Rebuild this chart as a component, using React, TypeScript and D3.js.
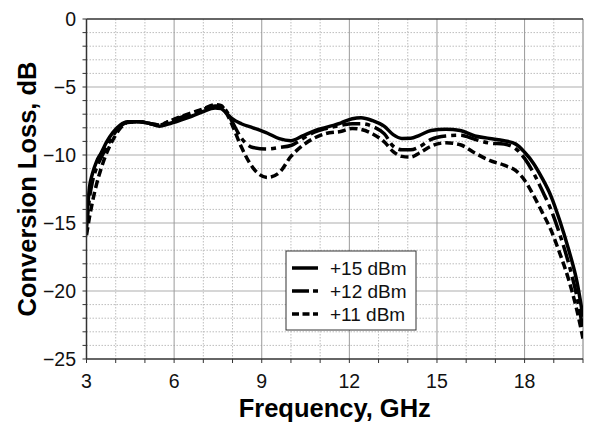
import React from "react";
import * as d3 from "d3";

const freq = [3.0, 3.1, 3.2, 3.35, 3.5, 3.7, 3.9, 4.15, 4.4, 4.8, 5.2, 5.5, 5.8, 6.2, 6.6, 7.0, 7.4, 7.6, 7.8, 8.0, 8.3, 8.7, 9.2, 9.6, 10.0, 10.4, 10.8, 11.2, 11.7, 12.1, 12.4, 12.8, 13.2, 13.5, 13.8, 14.1, 14.4, 14.8, 15.3, 15.8, 16.3, 16.8, 17.3, 17.7, 18.0, 18.3, 18.6, 18.9, 19.2, 19.5, 19.8, 20.0];

const loss15 = [-15.0, -12.4, -11.4, -10.45, -9.85, -9.0, -8.35, -7.8, -7.55, -7.55, -7.7, -7.88, -7.72, -7.45, -7.15, -6.8, -6.55, -6.58, -6.95, -7.35, -7.7, -8.0, -8.4, -8.8, -8.95, -8.6, -8.22, -7.97, -7.65, -7.33, -7.26, -7.48, -7.9, -8.5, -8.78, -8.77, -8.55, -8.2, -8.1, -8.2, -8.6, -8.78, -8.95, -9.2, -9.8, -10.6, -11.7, -13.0, -14.8, -16.9, -19.4, -21.9];

const loss12 = [-15.4, -13.2, -12.0, -10.9, -10.2, -9.35, -8.6, -7.9, -7.6, -7.55, -7.7, -7.8, -7.55, -7.25, -6.95, -6.65, -6.4, -6.4, -6.8, -7.6, -8.75, -9.45, -9.56, -9.45, -9.3, -8.8, -8.32, -8.05, -7.83, -7.7, -7.7, -7.9, -8.45, -9.35, -9.62, -9.62, -9.4, -8.85, -8.6, -8.55, -8.85, -9.12, -9.2, -9.55, -10.25, -11.3, -12.6, -14.0, -15.8, -17.9, -20.5, -22.8];

const loss11 = [-15.9, -14.6, -13.5, -12.1, -11.0, -9.8, -8.9, -8.05, -7.62, -7.55, -7.7, -7.8, -7.55, -7.2, -6.9, -6.6, -6.3, -6.35, -6.95, -7.85, -9.4, -10.95, -11.65, -11.3, -10.1, -9.3, -8.75, -8.42, -8.27, -8.05, -8.12, -8.45, -9.05, -9.75, -10.1, -10.15, -9.85, -9.35, -9.1, -9.25, -9.85, -10.4, -10.75, -11.15, -11.85, -12.95, -14.2, -15.5, -17.2, -19.1, -21.5, -23.5];

const seriesNames = ["+15 dBm", "+12 dBm", "+11 dBm"];
const seriesDash = ["none", "18 5 5 5", "8 4"];

const xTicks = [3, 6, 9, 12, 15, 18];
const yTicks = [0, -5, -10, -15, -20, -25];

export default function App() {
  const width = 592;
  const height = 425;
  const left = 86.5, right = 583, top = 19, bottom = 359;

  const x = d3.scaleLinear().domain([3, 20]).range([left, right]);
  const y = d3.scaleLinear().domain([-25, 0]).range([bottom, top]);

  const allSeries = [loss15, loss12, loss11];
  const line = d3.line<number>()
    .x((_, i) => x(freq[i]))
    .y(d => y(d))
    .curve(d3.curveMonotoneX);

  const minorX = d3.range(3, 21, 1);
  const minorY = d3.range(-25, 1, 1);
  const font = "Arial, 'Liberation Sans', sans-serif";

  return (
    <div style={{ position: "absolute", left: 0, top: 0 }}>
      <svg width={width} height={height} style={{ display: "block", background: "#fff" }}>
        <defs>
          <clipPath id="plotClip">
            <rect x={left} y={top - 2} width={right - left} height={bottom - top + 2} />
          </clipPath>
        </defs>
        {/* minor grid */}
        {minorX.filter(v => v % 3 !== 0).map(v => (
          <line key={"mx" + v} x1={x(v)} x2={x(v)} y1={top} y2={bottom}
            stroke="#bdbdbd" strokeWidth={1} strokeDasharray="1.5 1.5" />
        ))}
        {minorY.filter(v => v % 5 !== 0).map(v => (
          <line key={"my" + v} x1={left} x2={right} y1={y(v)} y2={y(v)}
            stroke="#bdbdbd" strokeWidth={1} strokeDasharray="1.5 1.5" />
        ))}
        {/* major grid */}
        {yTicks.filter(v => v !== 0 && v !== -25).map(v => (
          <line key={"gy" + v} x1={left} x2={right} y1={y(v)} y2={y(v)}
            stroke="#c8c8c8" strokeWidth={1.6} />
        ))}
        {xTicks.filter(v => v !== 3).map(v => (
          <line key={"gx" + v} x1={x(v)} x2={x(v)} y1={top} y2={bottom}
            stroke="#9a9a9a" strokeWidth={1} />
        ))}
        <line x1={right} x2={right} y1={top} y2={bottom} stroke="#bbbbbb" strokeWidth={2} />

        {/* curves */}
        <g clipPath="url(#plotClip)">
          {allSeries.map((s, i) => (
            <path key={i} d={line(s) || ""} fill="none" stroke="#000"
              strokeWidth={3.5} strokeDasharray={seriesDash[i]} strokeLinejoin="round" />
          ))}
        </g>

        {/* frame */}
        <line x1={left} x2={right} y1={top} y2={top} stroke="#333" strokeWidth={1.5} />
        <line x1={left} x2={left} y1={top} y2={bottom} stroke="#333" strokeWidth={1.5} />
        <line x1={left} x2={right} y1={bottom} y2={bottom} stroke="#333" strokeWidth={1.5} />

        {/* ticks */}
        {minorY.map(v => (
          <line key={"ty" + v} x1={left - 4} x2={left} y1={y(v)} y2={y(v)} stroke="#333" strokeWidth={1} />
        ))}
        {minorX.map(v => (
          <line key={"tx" + v} x1={x(v)} x2={x(v)} y1={bottom} y2={bottom + 4} stroke="#333" strokeWidth={1} />
        ))}
        {yTicks.map(v => (
          <text key={"ly" + v} x={76} y={y(v)} dy="0.36em" textAnchor="end"
            fontFamily={font} fontSize={19.5} fill="#111">
            {v === 0 ? "0" : "\u2212" + Math.abs(v)}
          </text>
        ))}
        {xTicks.map(v => (
          <text key={"lx" + v} x={x(v)} y={388} textAnchor="middle"
            fontFamily={font} fontSize={19.5} fill="#111">
            {v}
          </text>
        ))}

        {/* axis titles */}
        <text x={(left + right) / 2} y={417} textAnchor="middle" fontFamily={font}
          fontSize={25.5} fontWeight="bold" fill="#000">Frequency, GHz</text>
        <text transform={`translate(36,${(top + bottom) / 2}) rotate(-90)`} textAnchor="middle"
          fontFamily={font} fontSize={25.5} fontWeight="bold" fill="#000">Conversion Loss, dB</text>

        {/* legend */}
        <rect x={286} y={251} width={130} height={79} fill="#fff" stroke="#333" strokeWidth={1} />
        {seriesNames.map((n, i) => (
          <g key={n} transform={`translate(0,${268 + i * 23})`}>
            <line x1={292} x2={318} y1={0} y2={0} stroke="#000" strokeWidth={3.5}
              strokeDasharray={i === 0 ? "none" : i === 1 ? "17 4 5 4" : "7 3.5"} />
            <text x={330} y={0} dy="0.36em" fontFamily={font} fontSize={19} fill="#111">{n}</text>
          </g>
        ))}
      </svg>
    </div>
  );
}
